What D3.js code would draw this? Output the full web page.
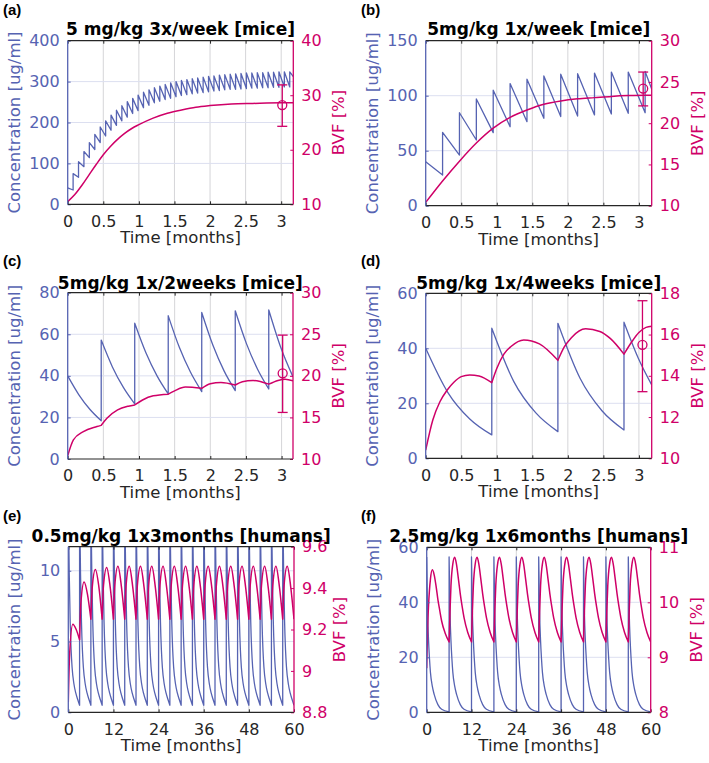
<!DOCTYPE html>
<html><head><meta charset="utf-8">
<script src="https://cdn.jsdelivr.net/npm/d3@7"></script>
<style>
body{margin:0;background:#fff}
svg{display:block}
text{font-family:"DejaVu Sans",sans-serif}
</style>
</head><body>
<svg id="chart" width="709" height="763"></svg>
<script>
// ---------------- DATA ----------------
// (a) 5 mg/kg 3x/week [mice]
const aXTicks=[0,0.5,1,1.5,2,2.5,3], aLeftTicks=[0,100,200,300,400], aRightTicks=[10,20,30,40];
const aDoseT=[0,0.076,0.152,0.228,0.304,0.381,0.457,0.533,0.609,0.685,0.761,0.837,0.913,0.989,1.065,1.142,1.218,1.294,1.370,1.446,1.522,1.598,1.674,1.750,1.826,1.903,1.979,2.055,2.131,2.207,2.283,2.359,2.435,2.511,2.587,2.664,2.740,2.816,2.892,2.968,3.044,3.120];
const aPeak=[40,75,104,129,151,171,189,204,218,230,241,251,259,267,274,280,285,289,293,297,300,303,305,307,309,311,313,314,316,317,318,319,320,321,321,322,322,323,323,324,324,324];
const aTrough=[35,66,92,114,134,151,167,181,193,204,213,222,229,236,242,248,252,256,259,263,266,268,270,272,273,275,277,278,280,281,281,282,283,284,284,285,285,286,286,287,287];
const aConcEnd=[3.17,312];
const aBvfT=[0,0.1,0.2,0.3,0.4,0.5,0.6,0.7,0.8,0.9,1.0,1.2,1.4,1.6,1.8,2.0,2.3,2.6,3.0,3.17];
const aBvfV=[10.5,11.8,13.5,15.4,17.3,19.1,20.6,21.9,23.0,23.9,24.6,25.8,26.7,27.3,27.8,28.1,28.4,28.5,28.6,28.6];
const aErr=[3.015,28.2,24.3,31.9];

// (b) 5mg/kg 1x/week [mice]
const bXTicks=[0,0.5,1,1.5,2,2.5,3], bLeftTicks=[0,50,100,150], bRightTicks=[10,15,20,25,30];
const bDoseT=[0,0.2375,0.475,0.7125,0.95,1.1875,1.425,1.6625,1.9,2.1375,2.375,2.6125,2.85,3.0875];
const bPeak=[40,66.7,84.5,97,105,111,115,118,119.5,120,120.6,121.5,121.5,122];
const bTrough=[27.9,46,59.7,66.4,71.8,76.4,79.4,81,81.5,82.5,83.4,84,84.5];
const bConcEnd=[3.18,106];
const bBvfT=[0,0.2375,0.475,0.7125,0.95,1.1875,1.425,1.6625,1.9,2.1375,2.375,2.6125,2.85,3.0875,3.18];
const bBvfV=[10.4,13.0,15.4,17.6,19.4,20.7,21.6,22.3,22.7,22.95,23.1,23.25,23.35,23.4,23.4];
const bErr=[3.06,24.2,22.1,26.2];

// (c) 5mg/kg 1x/2weeks [mice]
const cXTicks=[0,0.5,1,1.5,2,2.5,3], cLeftTicks=[0,20,40,60,80], cRightTicks=[10,15,20,25,30];
const cConc=[[0,40],[0.157,30.9],[0.313,23.8],[0.47,18.4],
 [0.47,57.2],[0.627,44.3],[0.783,34.3],[0.94,26.5],
 [0.94,65.3],[1.097,51.1],[1.253,40.0],[1.41,31.3],
 [1.41,68.9],[1.567,53.6],[1.723,41.7],[1.88,32.4],
 [1.88,70.5],[2.037,54.7],[2.193,42.4],[2.35,32.9],
 [2.35,71.3],[2.507,55.5],[2.663,43.2],[2.82,33.7],
 [2.82,71.7],[2.99,53.5],[3.16,39.5]];
const cBvf=[[0,10.4],[0.08,12.3],[0.22,13.3],[0.41,13.9],[0.47,14.05],
 [0.47,14.05],[0.55,14.9],[0.7,15.9],[0.85,16.35],[0.94,16.5],
 [0.94,16.5],[1.05,17.1],[1.2,17.6],[1.41,17.8],
 [1.41,17.8],[1.5,18.2],[1.65,18.65],[1.88,18.5],
 [1.88,18.5],[2.0,19.05],[2.15,19.2],[2.35,18.9],
 [2.35,18.9],[2.45,19.3],[2.6,19.45],[2.82,19.0],
 [2.82,19.0],[2.95,19.45],[3.05,19.6],[3.16,19.4]];
const cErr=[3.015,20.3,15.6,24.9];

// (d) 5mg/kg 1x/4weeks [mice]
const dXTicks=[0,0.5,1,1.5,2,2.5,3], dLeftTicks=[0,20,40,60], dRightTicks=[10,12,14,16,18];
const dConc=[[0,40],[0.31,24],[0.62,14.3],[0.93,8.5],
 [0.93,47.3],[1.24,27.9],[1.55,16.5],[1.86,9.7],
 [1.86,49.1],[2.17,29.2],[2.48,17.3],[2.79,10.3],
 [2.79,49.5],[2.99,36.5],[3.18,26.7]];
const dBvf=[[0,10.4],[0.1,11.86],[0.2,12.74],[0.3,13.3],[0.4,13.7],[0.5,13.96],[0.62,14.04],[0.75,13.99],[0.93,13.67],
 [0.93,13.67],[1.0,14.35],[1.1,15.05],[1.2,15.42],[1.38,15.74],[1.6,15.55],[1.86,14.75],
 [1.86,14.75],[1.95,15.4],[2.05,15.85],[2.25,16.28],[2.45,16.15],[2.6,15.8],[2.79,15.05],
 [2.79,15.05],[2.9,15.65],[3.0,16.1],[3.1,16.35],[3.18,16.4]];
const dErr=[3.05,15.5,13.23,17.64];

// (e) 0.5mg/kg 1x3months [humans]
const eXTicks=[0,12,24,36,48,60], eLeftTicks=[0,5,10], eRightTicks=[8.8,9,9.2,9.4,9.6];
const eDoseT=[0,3,6,9,12,15,18,21,24,27,30,33,36,39,42,45,48,51,54,57];
const eDecayOff=[0,0.25,0.5,0.75,1,1.5,2,2.5,3];
const eDecayV=[15,9.8,6.4,4.4,3.2,2.0,1.35,0.9,0.5];
const eBvfOff=[0,0.35,1.2,2.1,3];
const eBvfCycles=[[8.85,9.08,9.225,9.2,9.15],[9.15,9.33,9.43,9.37,9.25],[9.25,9.4,9.49,9.41,9.25],[9.25,9.41,9.5,9.41,9.25],
 [9.25,9.41,9.505,9.41,9.25],[9.25,9.41,9.505,9.41,9.25],[9.25,9.41,9.505,9.41,9.25],[9.25,9.41,9.505,9.41,9.25],
 [9.25,9.41,9.505,9.41,9.25],[9.25,9.41,9.505,9.41,9.25],[9.25,9.41,9.505,9.41,9.25],[9.25,9.41,9.505,9.41,9.25],
 [9.25,9.41,9.505,9.41,9.25],[9.25,9.41,9.505,9.41,9.25],[9.25,9.41,9.505,9.41,9.25],[9.25,9.41,9.505,9.41,9.25],
 [9.25,9.41,9.505,9.41,9.25],[9.25,9.41,9.505,9.41,9.25],[9.25,9.41,9.505,9.41,9.25],[9.25,9.41,9.505,9.41,9.25]];

// (f) 2.5mg/kg 1x6months [humans]
const fXTicks=[0,12,24,36,48,60], fLeftTicks=[0,20,40,60], fRightTicks=[8,9,10,11];
const fDoseT=[0,6,12,18,24,30,36,42,48,54];
const fDecayOff=[0,0.25,0.5,0.75,1,1.5,2,3,4,6];
const fDecayV=[56.5,36,26,19.5,14.5,9.5,6.5,2.8,1.1,0.15];
const fBvfOff=[0,0.25,0.5,1,1.5,2,2.5,3,3.5,4,5,6];
const fBvfCycles=[[8.8,9.55,9.95,10.42,10.59,10.5,10.3,10.05,9.85,9.66,9.43,9.28],
 [9.28,9.85,10.3,10.7,10.82,10.68,10.42,10.15,9.92,9.72,9.45,9.28],
 [9.28,9.85,10.3,10.7,10.82,10.68,10.42,10.15,9.92,9.72,9.45,9.28],
 [9.28,9.85,10.3,10.7,10.82,10.68,10.42,10.15,9.92,9.72,9.45,9.28],
 [9.28,9.85,10.3,10.7,10.82,10.68,10.42,10.15,9.92,9.72,9.45,9.28],
 [9.28,9.85,10.3,10.7,10.82,10.68,10.42,10.15,9.92,9.72,9.45,9.28],
 [9.28,9.85,10.3,10.7,10.82,10.68,10.42,10.15,9.92,9.72,9.45,9.28],
 [9.28,9.85,10.3,10.7,10.82,10.68,10.42,10.15,9.92,9.72,9.45,9.28],
 [9.28,9.85,10.3,10.7,10.82,10.68,10.42,10.15,9.92,9.72,9.45,9.28],
 [9.28,9.85,10.3,10.7,10.82,10.68,10.42,10.15,9.92,9.72,9.45,9.28]];

const titles=["5 mg/kg 3x/week [mice]","5mg/kg 1x/week [mice]","5mg/kg 1x/2weeks [mice]","5mg/kg 1x/4weeks [mice]","0.5mg/kg 1x3months [humans]","2.5mg/kg 1x6months [humans]"];
const panelLabels=["(a)","(b)","(c)","(d)","(e)","(f)"];
const xLabel="Time [months]", yLeftLabel="Concentration [ug/ml]", yRightLabel="BVF [%]";

// ---------------- BUILDERS ----------------
function buildSaw(doseT,peak,trough,end){
  const pts=[];
  doseT.forEach((t,k)=>{pts.push([t,peak[k]]); if(k<trough.length) pts.push([doseT[k+1],trough[k]]);});
  pts.push(end); return pts;
}
function buildCycles(doseT,off,valsFor){
  const pts=[];
  doseT.forEach((d,k)=>{const v=valsFor(k); off.forEach((o,j)=>pts.push([d+o,v[j]]));});
  return pts;
}
function zip(t,v){return t.map((x,i)=>[x,v[i]]);}

// ---------------- LAYOUT ----------------
const BLUE="#5663b2", MAG="#cf0068", DARK="#262626";
const layouts=[
 {l:67.7,r:293.3,t:40.7,b:204.3,ty:35,lx:3,ly:15},
 {l:425.7,r:651.7,t:40.7,b:205.7,ty:35,lx:361,ly:15},
 {l:67.7,r:293,t:292.7,b:459,ty:288.5,lx:3,ly:266},
 {l:425.7,r:651.7,t:293.3,b:458.3,ty:288.5,lx:361,ly:266},
 {l:68.3,r:294,t:546.7,b:712.3,ty:542,lx:3,ly:521},
 {l:426.7,r:650.7,t:547.3,b:712.3,ty:542,lx:361,ly:521}
];
const panels=[
 {xd:[0,3.17],yl:[0,400],yr:[10,40],xt:aXTicks,ylt:aLeftTicks,yrt:aRightTicks,conc:buildSaw(aDoseT,aPeak,aTrough,aConcEnd),bvf:zip(aBvfT,aBvfV),err:aErr},
 {xd:[0,3.18],yl:[0,150],yr:[10,30],xt:bXTicks,ylt:bLeftTicks,yrt:bRightTicks,conc:buildSaw(bDoseT,bPeak,bTrough,bConcEnd),bvf:zip(bBvfT,bBvfV),err:bErr},
 {xd:[0,3.16],yl:[0,80],yr:[10,30],xt:cXTicks,ylt:cLeftTicks,yrt:cRightTicks,conc:cConc,bvf:cBvf,err:cErr},
 {xd:[0,3.18],yl:[0,60],yr:[10,18],xt:dXTicks,ylt:dLeftTicks,yrt:dRightTicks,conc:dConc,bvf:dBvf,err:dErr},
 {xd:[0,60],yl:[0,11.7],yr:[8.8,9.6],xt:eXTicks,ylt:eLeftTicks,yrt:eRightTicks,conc:buildCycles(eDoseT,eDecayOff,()=>eDecayV),bvf:buildCycles(eDoseT,eBvfOff,k=>eBvfCycles[k]),err:null},
 {xd:[0,60],yl:[0,60],yr:[8,11],xt:fXTicks,ylt:fLeftTicks,yrt:fRightTicks,conc:buildCycles(fDoseT,fDecayOff,()=>fDecayV),bvf:buildCycles(fDoseT,fBvfOff,k=>fBvfCycles[k]),err:null}
];

const svg=d3.select("#chart");
const fmt=d3.format("~g");

function segmentsOf(pts){
  const segs=[]; let cur=[];
  pts.forEach((p,i)=>{ if(i>0 && Math.abs(p[0]-pts[i-1][0])<1e-9){segs.push(cur);cur=[];} cur.push(p); });
  segs.push(cur); return segs;
}
function pathOf(pts,x,y){
  const line=d3.line().x(d=>x(d[0])).y(d=>y(d[1])).curve(d3.curveMonotoneX);
  return segmentsOf(pts).filter(s=>s.length>1).map((s,i)=>{const d=line(s);return i===0?d:d.replace(/^M/,"L");}).join("");
}

panels.forEach((P,i)=>{
  const L=layouts[i];
  const g=svg.append("g");
  const x=d3.scaleLinear().domain(P.xd).range([L.l,L.r]);
  const yl=d3.scaleLinear().domain(P.yl).range([L.b,L.t]);
  const yr=d3.scaleLinear().domain(P.yr).range([L.b,L.t]);
  const cid="clip"+i;
  svg.append("clipPath").attr("id",cid).append("rect").attr("x",L.l).attr("y",L.t).attr("width",L.r-L.l).attr("height",L.b-L.t);

  // grid
  g.append("g").selectAll("line").data(P.xt.filter(t=>t>P.xd[0]&&t<P.xd[1])).join("line")
    .attr("x1",d=>x(d)).attr("x2",d=>x(d)).attr("y1",L.t).attr("y2",L.b).attr("stroke","#d5d5d8").attr("stroke-width",1);
  g.append("g").selectAll("line").data(P.ylt.filter(v=>v>P.yl[0]&&v<P.yl[1])).join("line")
    .attr("x1",L.l).attr("x2",L.r).attr("y1",d=>yl(d)).attr("y2",d=>yl(d)).attr("stroke","#dcdff0").attr("stroke-width",1);

  const data=g.append("g").attr("clip-path",`url(#${cid})`);
  data.append("path").attr("d",pathOf(P.conc,x,yl)).attr("fill","none").attr("stroke",BLUE).attr("stroke-width",1.3).attr("stroke-linejoin","round");
  data.append("path").attr("d",pathOf(P.bvf,x,yr)).attr("fill","none").attr("stroke",MAG).attr("stroke-width",1.5).attr("stroke-linejoin","round");

  if(P.err){
    const [et,em,elo,ehi]=P.err, ex=x(et);
    const eg=g.append("g").attr("stroke",MAG).attr("stroke-width",1.3).attr("fill","none");
    eg.append("line").attr("x1",ex).attr("x2",ex).attr("y1",yr(elo)).attr("y2",yr(ehi));
    eg.append("line").attr("x1",ex-5).attr("x2",ex+5).attr("y1",yr(elo)).attr("y2",yr(elo));
    eg.append("line").attr("x1",ex-5).attr("x2",ex+5).attr("y1",yr(ehi)).attr("y2",yr(ehi));
    eg.append("circle").attr("cx",ex).attr("cy",yr(em)).attr("r",4.5);
  }

  // axes
  const ax=(gen,tr,color,fs)=>{
    const a=g.append("g").attr("transform",tr).call(gen);
    a.select(".domain").remove();
    a.selectAll(".tick line").attr("stroke",color).attr("stroke-width",1);
    a.selectAll(".tick text").attr("fill",color).style("font-size",fs).style("font-family","DejaVu Sans");
    return a;
  };
  const bx=ax(d3.axisBottom(x).tickValues(P.xt).tickFormat(fmt).tickSizeInner(-3).tickSizeOuter(0).tickPadding(11),`translate(0,${L.b})`,DARK,"16px");
  bx.selectAll(".tick text").attr("dy","0.71em");
  ax(d3.axisTop(x).tickValues(P.xt).tickFormat("").tickSizeInner(-3).tickSizeOuter(0),`translate(0,${L.t})`,DARK,"16px");
  ax(d3.axisLeft(yl).tickValues(P.ylt).tickFormat(fmt).tickSizeInner(-3).tickSizeOuter(0).tickPadding(8),`translate(${L.l},0)`,BLUE,"16px");
  ax(d3.axisRight(yr).tickValues(P.yrt).tickFormat(fmt).tickSizeInner(-3).tickSizeOuter(0).tickPadding(8),`translate(${L.r},0)`,MAG,"16px");

  // box
  g.append("line").attr("x1",L.l).attr("x2",L.r).attr("y1",L.b).attr("y2",L.b).attr("stroke",DARK).attr("stroke-width",1.2);
  g.append("line").attr("x1",L.l).attr("x2",L.r).attr("y1",L.t).attr("y2",L.t).attr("stroke",DARK).attr("stroke-width",1.2);
  g.append("line").attr("x1",L.l).attr("x2",L.l).attr("y1",L.t).attr("y2",L.b).attr("stroke",BLUE).attr("stroke-width",1.3);
  g.append("line").attr("x1",L.r).attr("x2",L.r).attr("y1",L.t).attr("y2",L.b).attr("stroke",MAG).attr("stroke-width",1.3);

  // labels
  g.append("text").attr("x",(L.l+L.r)/2).attr("y",L.b+39).attr("text-anchor","middle").attr("fill",DARK).style("font-size","16.5px").text(xLabel);
  g.append("text").attr("transform",`translate(${L.l-48},${(L.t+L.b)/2}) rotate(-90)`).attr("text-anchor","middle").attr("fill",BLUE).style("font-size","16.5px").text(yLeftLabel);
  g.append("text").attr("transform",`translate(${L.r+51},${(L.t+L.b)/2}) rotate(-90)`).attr("text-anchor","middle").attr("fill",MAG).style("font-size","16.5px").text(yRightLabel);
  g.append("text").attr("x",(L.l+L.r)/2).attr("y",L.ty).attr("text-anchor","middle").attr("fill","#000").style("font-size","17px").style("font-weight","bold").text(titles[i]);
  g.append("text").attr("x",L.lx).attr("y",L.ly).attr("fill","#000").style("font-family","'Liberation Sans',Arial,sans-serif").style("font-size","15px").style("font-weight","bold").text(panelLabels[i]);
});
</script>
</body></html>
